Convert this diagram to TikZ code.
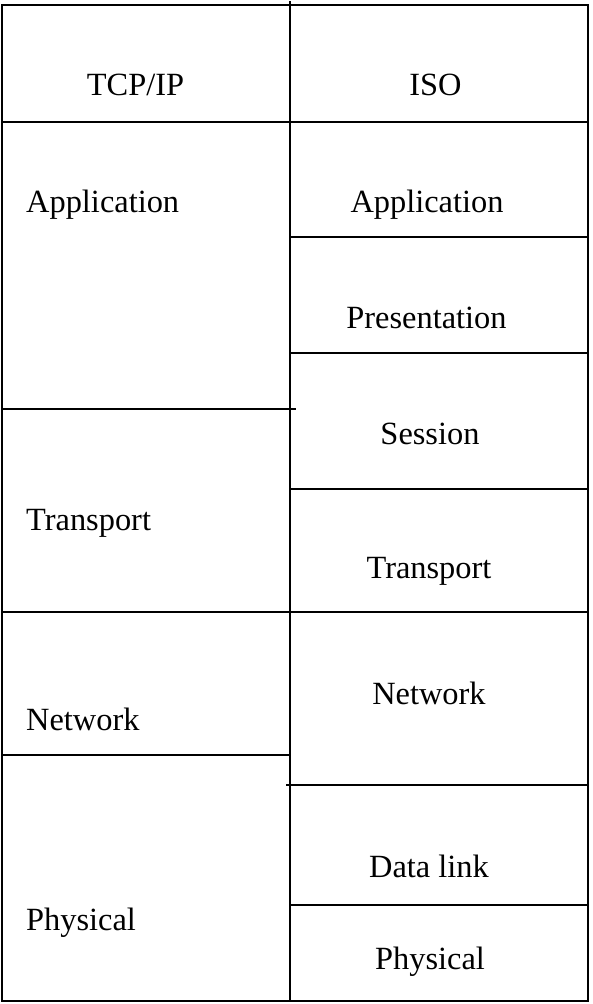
\documentclass[tikz,border=0pt]{standalone}
\usepackage{fontspec}
\setmainfont{Liberation Serif}
\begin{document}
\begin{tikzpicture}[x=1pt,y=-1pt,
  rule/.style={line width=2.4pt,black},
  lbl/.style={inner sep=0pt,font=\fontsize{32.4}{38}\selectfont},
  lefttxt/.style={lbl,anchor=base west},
  midtxt/.style={lbl,anchor=base}]
\useasboundingbox (0,0) rectangle (592,1004);
% outer frame
\draw[rule] (2,5) rectangle (588,1001);
% middle divider
\draw[rule] (290,1) -- (290,1001);
% header line
\draw[rule] (2,122) -- (588,122);
% left column dividers
\draw[rule] (2,409) -- (296,409);
\draw[rule] (2,612) -- (588,612);
\draw[rule] (2,755) -- (290,755);
% right column dividers
\draw[rule] (290,237) -- (588,237);
\draw[rule] (290,353) -- (588,353);
\draw[rule] (290,489) -- (588,489);
\draw[rule] (286,785) -- (588,785);
\draw[rule] (290,905) -- (588,905);
% headers
\node[midtxt] (htcp) at (135.5,95) {TCP/IP};
\node[midtxt] (hiso) at (435.5,95) {ISO};
% TCP/IP layers
\node[lefttxt] (tapp) at (26,212) {Application};
\node[lefttxt] (ttra) at (26,530) {Transport};
\node[lefttxt] (tnet) at (26,730) {Network};
\node[lefttxt] (tphy) at (26,930) {Physical};
% ISO layers
\node[midtxt] (iapp) at (427,212) {Application};
\node[midtxt] (ipre) at (426.5,328) {Presentation};
\node[midtxt] (ises) at (430,444) {Session};
\node[midtxt] (itra) at (429,578) {Transport};
\node[midtxt] (inet) at (429,704) {Network};
\node[midtxt] (idat) at (429,877) {Data link};
\node[midtxt] (iphy) at (430,969) {Physical};
\end{tikzpicture}
\end{document}
